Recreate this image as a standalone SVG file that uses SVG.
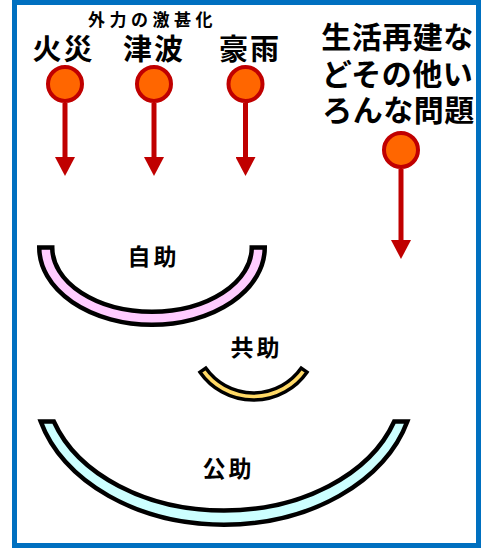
<svg xmlns="http://www.w3.org/2000/svg" width="481" height="548" viewBox="0 0 481 548">
<style>
text{font-family:"Noto Sans CJK JP","Noto Sans CJK SC",sans-serif;font-weight:bold;fill:#000;text-anchor:middle}
.t1{font-size:17px;letter-spacing:4.5px}
.t2{font-size:29px;letter-spacing:2px}
.t3{font-size:30px;letter-spacing:0.5px}
.t4{font-size:23px;letter-spacing:3px}
.dot{fill:#FF6600;stroke:#C00000;stroke-width:4}
.stem{stroke:#C00000;stroke-width:5;fill:none;marker-end:url(#ah)}
.band{stroke:#000;stroke-width:4.5;stroke-linejoin:miter}
</style>
<defs>
<marker id="ah" viewBox="0 0 20 20" refX="0.5" refY="10" markerWidth="20" markerHeight="20" markerUnits="userSpaceOnUse" orient="auto">
<path d="M0,0 L19,10 L0,20 Z" fill="#C00000"/>
</marker>
</defs>
<rect x="0" y="0" width="481" height="548" fill="#fff"/>
<rect id="frame" x="14.5" y="2.5" width="464" height="543" fill="none" stroke="#0070C0" stroke-width="5"/>
<g id="title"><text class="t1" x="152.5" y="26">外力の激甚化</text></g>
<g id="connectors">
<line class="stem" x1="65" y1="103" x2="65" y2="157.5"/>
<line class="stem" x1="154" y1="103" x2="154" y2="157.5"/>
<line class="stem" x1="245.5" y1="103" x2="245.5" y2="157.5"/>
<line class="stem" x1="401" y1="169" x2="401" y2="240.5"/>
</g>
<g id="fire"><text class="t2" x="63.5" y="60">火災</text><circle class="dot" cx="65" cy="84" r="17"/></g>
<g id="tsunami"><text class="t2" x="154" y="60">津波</text><circle class="dot" cx="154" cy="84" r="17"/></g>
<g id="rain"><text class="t2" x="250" y="60">豪雨</text><circle class="dot" cx="245.5" cy="84" r="17"/></g>
<g id="other">
<text class="t3" x="397.5" y="48">生活再建な</text>
<text class="t3" x="397.5" y="85">どその他い</text>
<text class="t3" x="398.5" y="121">ろんな問題</text>
<circle class="dot" cx="401" cy="150" r="17"/>
</g>
<g id="jijo">
<path class="band" fill="#FFCCFF" d="M39.25 247.5 A112.75 77.25 0 0 0 264.75 247.5 L251.75 247.5 A99.75 64.25 0 0 1 52.25 247.5 Z"/>
<text class="t4" x="153.5" y="265">自助</text>
</g>
<g id="kyojo">
<text class="t4" x="256.5" y="356">共助</text>
<path class="band" fill="#FFD966" style="stroke-width:3.5" d="M200 372.2 A65.3 65.3 0 0 0 307 372.2 L301.25 368.1 A58.3 58.3 0 0 1 205.75 368.1 Z"/>
</g>
<g id="kojo">
<path class="band" fill="#CCFFFF" d="M40.7 421.5 A190 140 0 0 0 407.3 421.5 L394.2 421.5 A179 129 0 0 1 53.8 421.5 Z"/>
<text class="t4" x="228.5" y="477">公助</text>
</g>
</svg>
